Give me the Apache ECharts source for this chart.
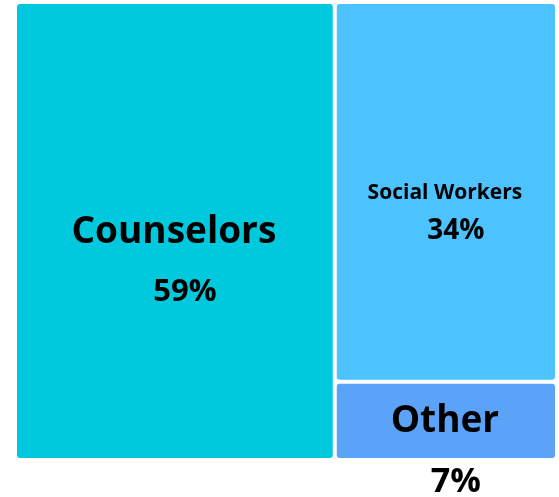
<!DOCTYPE html>
<html>
<head>
<meta charset="utf-8">
<script src="https://cdn.jsdelivr.net/npm/echarts@6/dist/echarts.min.js"></script>
<style>html,body{margin:0;padding:0;background:#fff;}#c{width:559px;height:497px;}</style>
</head>
<body>
<div id="c"></div>
<script>
const categories = ['Counselors', 'Social Workers', 'Other'];
const values = [59, 34, 7];
const colors = ['#00c9dd', '#4cc2ff', '#5aa3f8'];

// label styling (sizes & offsets relative to each cell's centre)
const nameSizes = [37, 21, 37];
const pctSizes = [31, 28, 34];
const nameDy = [1, 1, 1];
const pctDy = [61, 39.5, 61];
const LH = 40;
const FONT = 'Open Sans';

const chart = echarts.init(document.getElementById('c'));

const base = {
  type: 'treemap',
  left: 17, top: 4, width: 538, height: 454,
  squareRatio: 1,
  roam: false, nodeClick: false,
  breadcrumb: { show: false },
  animation: false,
  emphasis: { disabled: true },
  levels: [
    { itemStyle: { gapWidth: 4, borderWidth: 0 } },
    { itemStyle: { borderRadius: 3, borderWidth: 0 } }
  ]
};

const nameData = categories.map((n, i) => ({
  name: n, value: values[i],
  itemStyle: { color: colors[i] },
  label: {
    fontSize: nameSizes[i],
    offset: [-1, nameDy[i] - LH / 2]
  }
}));
const pctData = categories.map((n, i) => ({
  name: n, value: values[i],
  itemStyle: { color: 'rgba(0,0,0,0)' },
  label: {
    fontSize: pctSizes[i],
    offset: [10, pctDy[i] - LH / 2]
  }
}));

const labelBase = {
  show: true,
  position: ['50%', '50%'],
  align: 'center',
  verticalAlign: 'top',
  padding: 0,
  lineHeight: LH,
  color: '#000',
  fontWeight: 'bold',
  fontFamily: FONT,
  overflow: 'none'
};

chart.setOption({
  animation: false,
  series: [
    Object.assign({}, base, {
      label: Object.assign({}, labelBase, { formatter: '{b}' }),
      data: nameData
    }),
    Object.assign({}, base, {
      silent: true,
      label: Object.assign({}, labelBase, { formatter: p => p.value + '%' }),
      data: pctData
    })
  ]
});
</script>
</body>
</html>
